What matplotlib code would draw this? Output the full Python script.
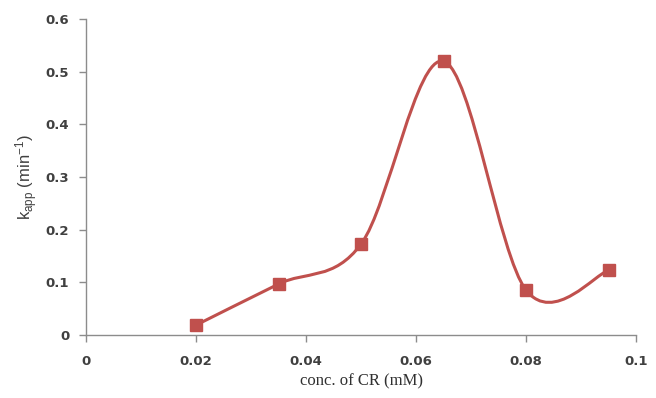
import numpy as np
import matplotlib
matplotlib.use("Agg")
import matplotlib.pyplot as plt
from matplotlib.path import Path
from matplotlib.patches import PathPatch

# data
conc = [0.02, 0.035, 0.05, 0.065, 0.08, 0.095]
kapp = [0.019, 0.097, 0.173, 0.52, 0.085, 0.123]
xticks = [0, 0.02, 0.04, 0.06, 0.08, 0.1]
xticklabels = ["0", "0.02", "0.04", "0.06", "0.08", "0.1"]
yticks = [0, 0.1, 0.2, 0.3, 0.4, 0.5, 0.6]
yticklabels = ["0", "0.1", "0.2", "0.3", "0.4", "0.5", "0.6"]

red = "#C0504D"
grey = "#8c8c8c"

plt.rcParams["mathtext.default"] = "regular"

fig = plt.figure(figsize=(6.56, 3.98), dpi=100)
ax = fig.add_axes([0.131, 0.158, 0.839, 0.794])

# Excel-like smoothed line (Catmull-Rom bezier)
pts = np.column_stack([conc, kapp])
n = len(pts)
verts = [tuple(pts[0])]
codes = [Path.MOVETO]
for i in range(n - 1):
    p0 = pts[i - 1] if i > 0 else pts[i]
    p1 = pts[i]
    p2 = pts[i + 1]
    p3 = pts[i + 2] if i + 2 < n else pts[i + 1]
    c1 = p1 + (p2 - p0) / 6
    c2 = p2 - (p3 - p1) / 6
    verts += [tuple(c1), tuple(c2), tuple(p2)]
    codes += [Path.CURVE4] * 3
ax.add_patch(PathPatch(Path(verts, codes), fill=False, edgecolor=red, lw=2.2, zorder=2))
ax.plot(conc, kapp, "s", color=red, markersize=8, zorder=3)

ax.set_xlim(0, 0.1)
ax.set_ylim(0, 0.6)
ax.set_xticks(xticks)
ax.set_xticklabels(xticklabels)
ax.set_yticks(yticks)
ax.set_yticklabels(yticklabels)

for s in ["top", "right"]:
    ax.spines[s].set_visible(False)
for s in ["left", "bottom"]:
    ax.spines[s].set_color(grey)
    ax.spines[s].set_linewidth(1.0)
ax.tick_params(axis="both", colors=grey, length=5, width=1.0, direction="out")
for lab in ax.get_xticklabels() + ax.get_yticklabels():
    lab.set_color("#404040")
    lab.set_fontsize(9.5)
    lab.set_fontweight("bold")
    lab.set_family("DejaVu Sans")
ax.tick_params(axis="x", pad=9)
ax.tick_params(axis="y", pad=7)

ax.set_xlabel("conc. of CR (mM)", family="Liberation Serif", fontsize=12, color="#303030", labelpad=4)
ax.set_ylabel(r"k$_{app}$ (min$^{-1}$)", family="Liberation Sans", fontsize=12, color="#404040", labelpad=4)

fig.savefig("out.png", dpi=100)
